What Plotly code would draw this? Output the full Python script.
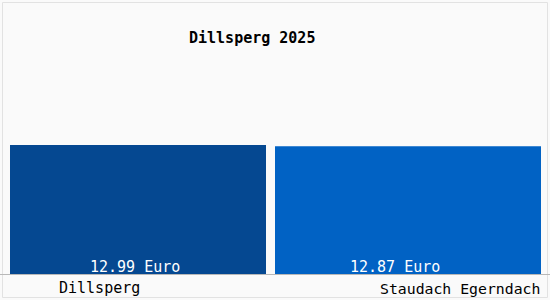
import plotly.graph_objects as go

categories = ["Dillsperg", "Staudach Egerndach"]
values = [12.99, 12.87]
value_labels = ["12.99 Euro", "12.87 Euro"]
title_text = "Dillsperg 2025"
colors = ["#054891", "#0162c4"]

W, H = 550, 300
L, R, T, B = 10, 9, 10, 26
pw, ph = W - L - R, H - T - B

def px_x(p):
    return (p - L) / pw

def px_y(p):
    return (H - B - p) / ph

ymax = max(values) * ph / 129.0
S = pw / 2.0  # pixels per category slot

FONT = "DejaVu Sans Mono"

fig = go.Figure()
fig.add_trace(go.Bar(
    x=categories, y=values, marker=dict(color=colors, line=dict(width=0)),
    width=[256 / S, 266 / S],
    offset=[-0.5, (256 + 9 - S) / S - 0.5],
    hoverinfo="skip", showlegend=False,
))

annotations = []
for cat, lab, xs in zip(categories, value_labels, [-8, -13]):
    annotations.append(dict(
        x=cat, y=0, xref="x", yref="y", text=lab, showarrow=False,
        yanchor="bottom", xshift=xs, yshift=-4,
        font=dict(family=FONT, size=15, color="#ffffff"),
    ))
annotations.append(dict(
    x=px_x(99), y=px_y(288), xref="paper", yref="paper", text=categories[0],
    showarrow=False, xanchor="center", yanchor="middle",
    font=dict(family=FONT, size=15, color="#000000"),
))
annotations.append(dict(
    x=px_x(542), y=px_y(288), xref="paper", yref="paper", text=categories[1],
    showarrow=False, xanchor="right", yanchor="middle",
    font=dict(family=FONT, size=14.8, color="#000000"),
))
annotations.append(dict(
    x=px_x(252), y=px_y(38), xref="paper", yref="paper",
    text="<b>" + title_text + "</b>",
    showarrow=False, xanchor="center", yanchor="middle",
    font=dict(family=FONT, size=15, color="#000000"),
))

shapes = [
    dict(type="rect", xref="paper", yref="paper",
         x0=px_x(2.5), x1=px_x(547.5), y0=px_y(297.5), y1=px_y(2.5),
         line=dict(color="#e2e2e2", width=1), fillcolor="rgba(0,0,0,0)", layer="below"),
    dict(type="line", xref="paper", yref="paper",
         x0=px_x(0), x1=px_x(550), y0=px_y(274.5), y1=px_y(274.5),
         line=dict(color="#b8b8b8", width=1)),
]

fig.update_layout(
    width=W, height=H,
    margin=dict(l=L, r=R, t=T, b=B, pad=0),
    paper_bgcolor="#fafafa", plot_bgcolor="#fafafa",
    xaxis=dict(range=[-0.5, 1.5], showticklabels=False,
               showgrid=False, zeroline=False, showline=False, fixedrange=True),
    yaxis=dict(range=[0, ymax], showticklabels=False, showgrid=False,
               zeroline=False, showline=False, fixedrange=True),
    annotations=annotations,
    shapes=shapes,
)

fig.write_html("out.html", config={"displayModeBar": False})
